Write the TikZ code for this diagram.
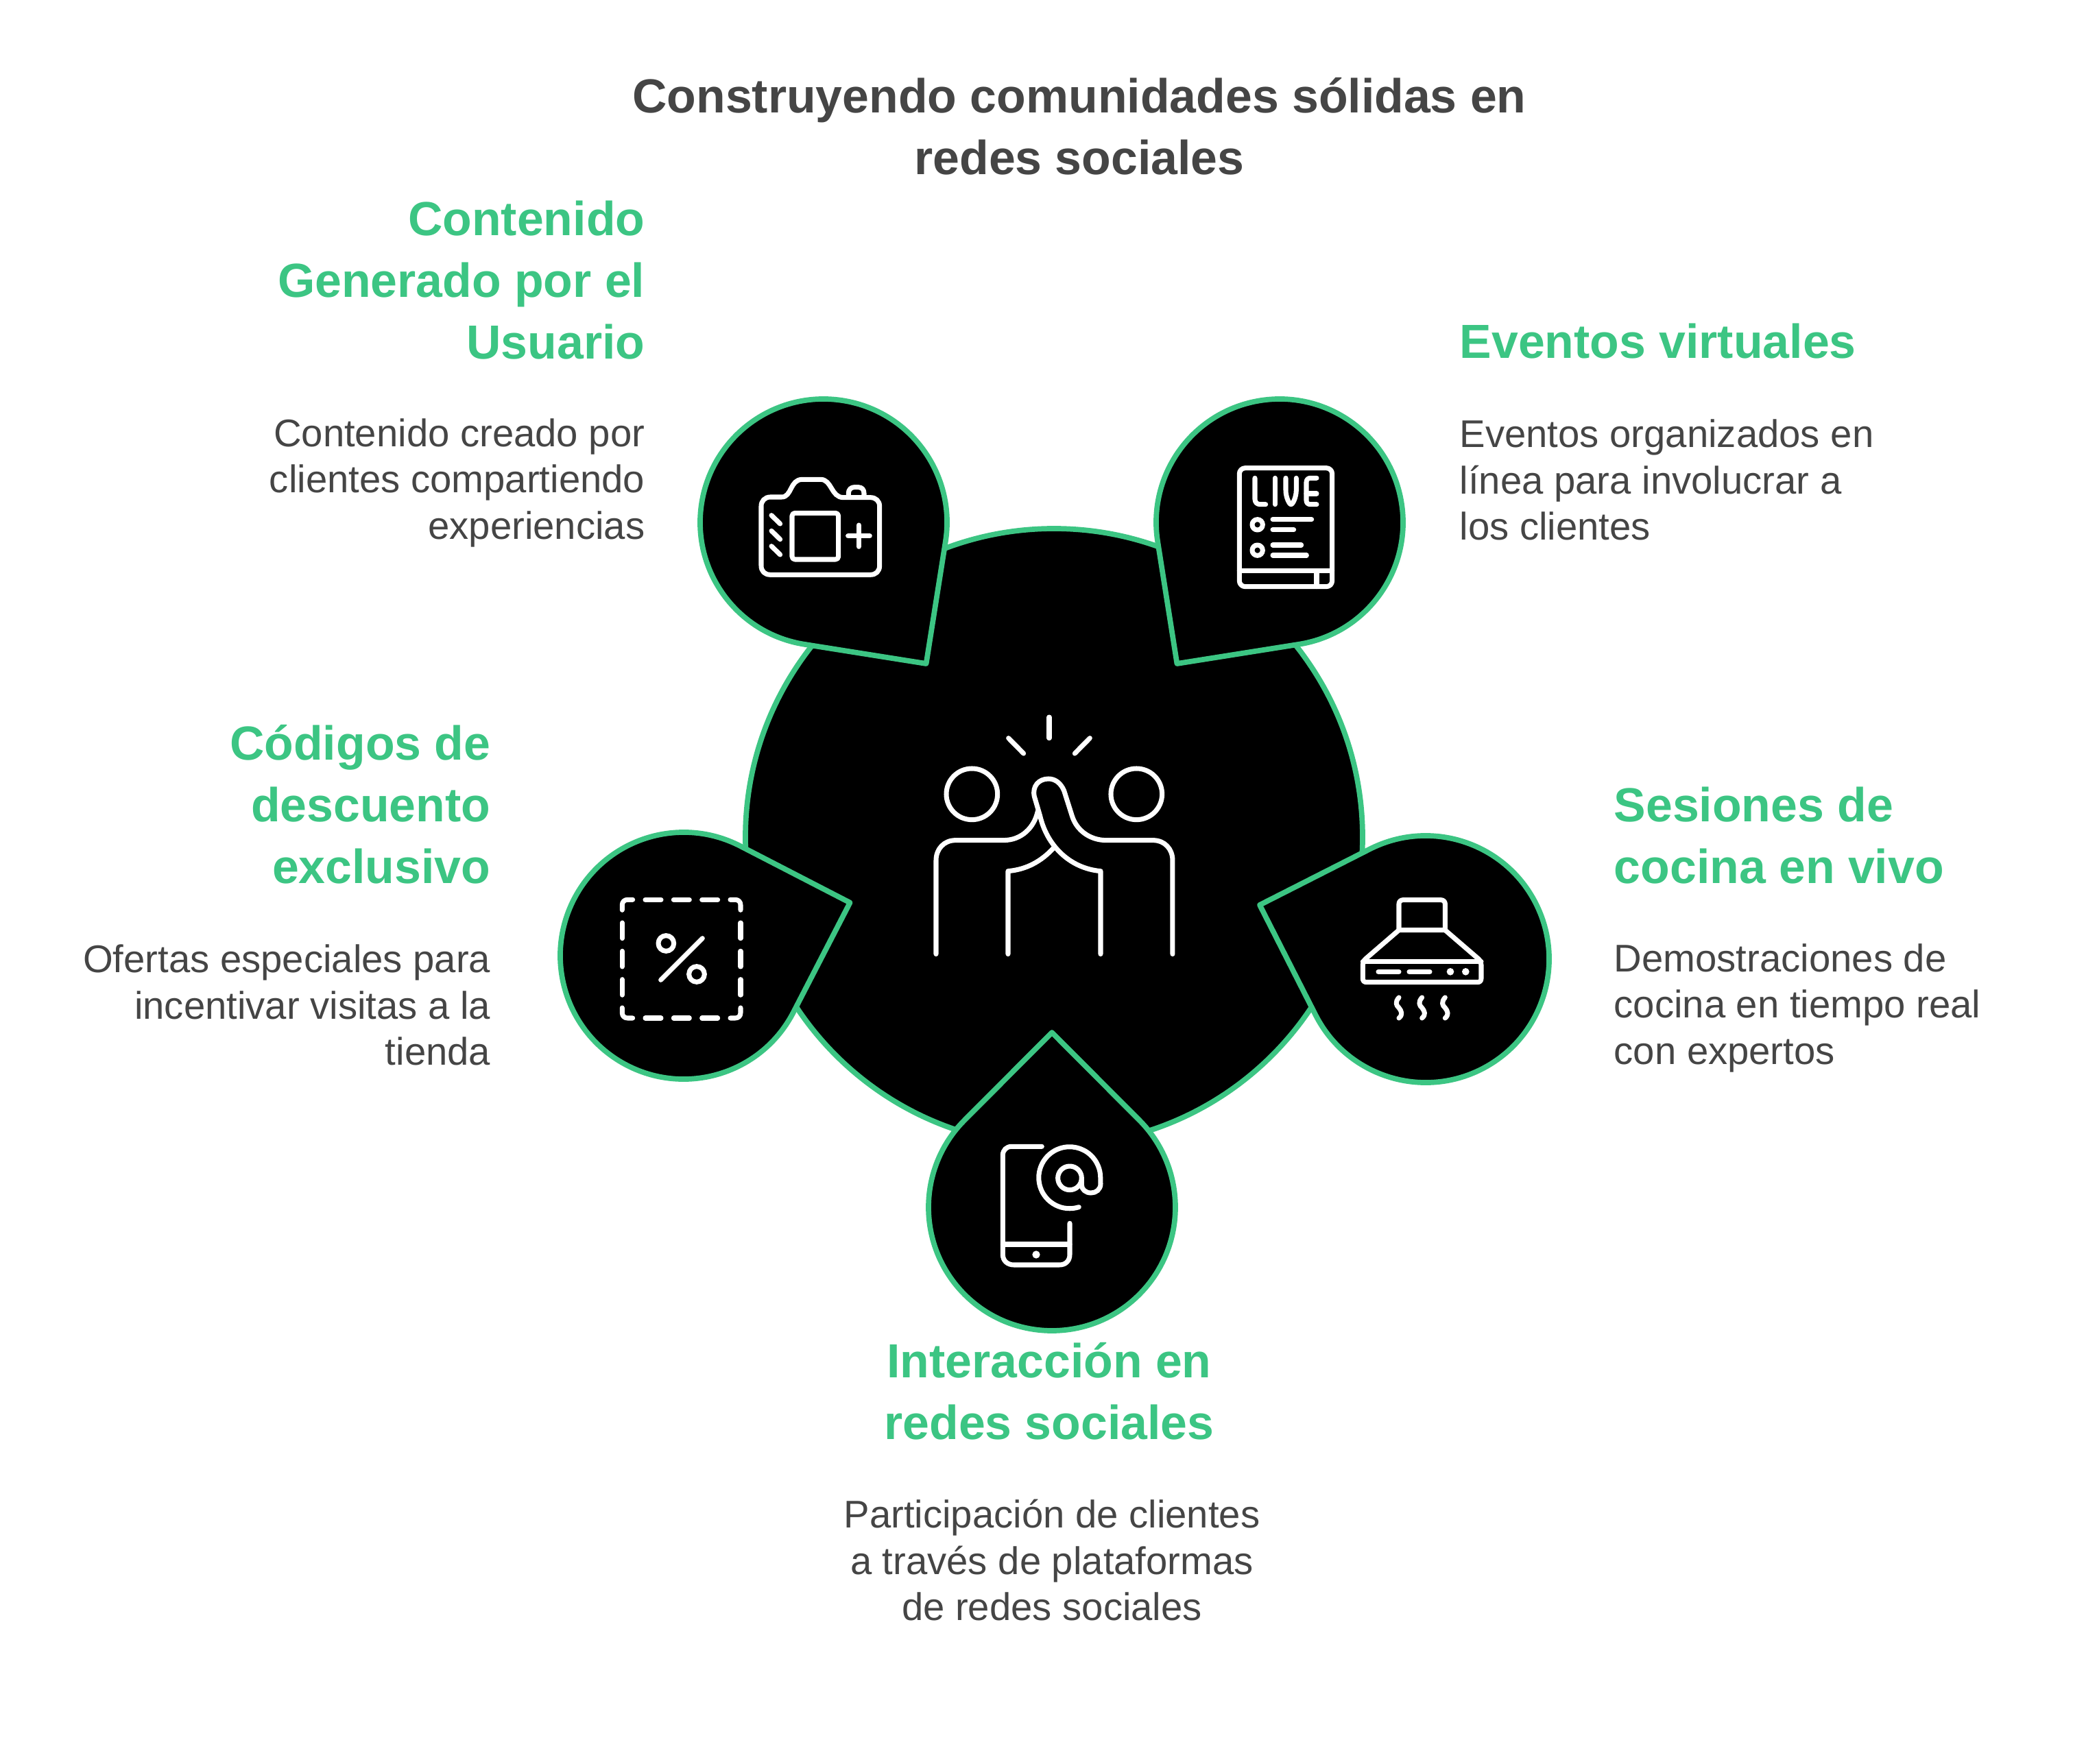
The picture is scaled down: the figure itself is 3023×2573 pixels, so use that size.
\documentclass[tikz,border=0pt]{standalone}
\usepackage{fontspec}
\setmainfont{Liberation Sans}
\definecolor{pingreen}{HTML}{3CC583}
\definecolor{textgrey}{HTML}{454545}
\begin{document}
\begin{tikzpicture}[x=0.01cm,y=-0.01cm,
    pin/.style={draw=pingreen,fill=black,line width=2.2pt,line join=round},
    icon/.style={draw=white,line width=2pt,line cap=round,line join=round},
    dot/.style={fill=white,draw=none},
    titletext/.style={inner sep=0pt,align=center,text=textgrey,font=\fontsize{19.85pt}{25.6pt}\selectfont\bfseries},
    headtext/.style={inner sep=0pt,text=pingreen,font=\fontsize{19.85pt}{25.6pt}\selectfont\bfseries},
    bodytext/.style={inner sep=0pt,text=textgrey,font=\fontsize{16pt}{19.2pt}\selectfont}]
  \useasboundingbox (0,0) rectangle (3023,2573);

  \node [titletext] (title) at (1574,184) {Construyendo comunidades sólidas en\\redes sociales};

  % big circle and the five pins
  \coordinate (hub) at (1537,1221);
  \draw [pin] (hub) circle [radius=450];

  \coordinate (pincam) at (1201,762);
  \coordinate (tipcam) at (1350.6,968);
  \draw [pin] (tipcam) -- ([shift={(99:180)}]pincam) arc [start angle=99,delta angle=270,radius=180] -- cycle;

  \coordinate (pinlive) at (1866,762);
  \coordinate (tiplive) at (1716.4,968);
  \draw [pin] (tiplive) -- ([shift={(171:180)}]pinlive) arc [start angle=171,delta angle=270,radius=180] -- cycle;

  \coordinate (pinhood) at (2079,1399);
  \coordinate (tiphood) at (1837,1320);
  \draw [pin] (tiphood) -- ([shift={(243:180)}]pinhood) arc [start angle=243,delta angle=270,radius=180] -- cycle;

  \coordinate (pinphone) at (1534,1761);
  \coordinate (tipphone) at (1534,1506);
  \draw [pin] (tipphone) -- ([shift={(-45:180)}]pinphone) arc [start angle=-45,delta angle=270,radius=180] -- cycle;

  \coordinate (pinsale) at (997,1394);
  \coordinate (tipsale) at (1239.5,1316.6);
  \draw [pin] (tipsale) -- ([shift={(27:180)}]pinsale) arc [start angle=27,delta angle=270,radius=180] -- cycle;

  % high five
  \begin{scope}[shift={(1330,1020)},scale=0.3333]
    \draw [icon] (262,415) circle [radius=112];
    \draw [icon] (982,415) circle [radius=112];
    \draw [icon] (600,78) -- (600,170);
    \draw [icon] (422,170) -- (488,237);
    \draw [icon] (778,170) -- (712,237);
    \draw [icon] (105,1115) -- (105,705) .. controls (105,655) and (140,617) .. (190,617) -- (400,617)
      .. controls (480,617) and (535,560) .. (550,490);
    \draw [icon] (1140,1115) -- (1140,705) .. controls (1140,655) and (1105,617) .. (1055,617) -- (850,617)
      .. controls (780,617) and (720,575) .. (700,510) -- (665,400)
      .. controls (650,365) and (625,348) .. (597,348)
      .. controls (555,348) and (525,380) .. (535,425) -- (560,510)
      .. controls (590,640) and (690,740) .. (825,752) -- (825,1115);
    \draw [icon] (420,1115) -- (420,752) .. controls (500,745) and (565,710) .. (620,650);
  \end{scope}

  % camera
  \begin{scope}[shift={(1080,670)},scale=0.3333]
    \draw [icon] (130,165) -- (180,165) .. controls (225,165) and (215,88) .. (270,88) -- (350,88)
      .. controls (400,88) and (395,167) .. (450,167) -- (568,167)
      .. controls (592,167) and (608,183) .. (608,205) -- (608,465)
      .. controls (608,490) and (592,505) .. (568,505) -- (130,505)
      .. controls (106,505) and (90,490) .. (90,465) -- (90,205)
      .. controls (90,183) and (106,165) .. (130,165) -- cycle;
    \draw [icon,rounded corners=1.2pt] (225,235) rectangle (428,438);
    \draw [icon] (470,335) -- (565,335);
    \draw [icon] (517,288) -- (517,382);
    \draw [icon] (135,245) -- (173,282);
    \draw [icon] (135,313) -- (173,350);
    \draw [icon] (135,380) -- (173,417);
    \draw [icon] (472,165) -- (472,148) .. controls (472,132) and (484,122) .. (497,122) -- (515,122)
      .. controls (530,122) and (540,132) .. (540,148) -- (540,165);
  \end{scope}

  % live book
  \begin{scope}[shift={(1780,660)},scale=0.3333]
    \draw [icon,rounded corners=2.4pt] (82,68) rectangle (488,587);
    \draw [icon] (82,518) -- (488,518);
    \draw [icon] (420,518) -- (420,587);
    \draw [icon] (150,112) -- (150,205) .. controls (150,218) and (160,227) .. (172,227) -- (197,227);
    \draw [icon] (238,112) -- (238,227);
    \draw [icon] (285,112) -- (285,165) .. controls (285,195) and (300,227) .. (308,227)
      .. controls (316,227) and (331,195) .. (331,165) -- (331,112);
    \draw [icon] (420,112) -- (392,112) .. controls (382,112) and (375,120) .. (375,130) -- (375,210)
      .. controls (375,220) and (382,227) .. (392,227) -- (420,227);
    \draw [icon] (375,180) -- (420,180);
    \draw [icon] (161,316) circle [radius=23];
    \draw [icon] (161,428) circle [radius=23];
    \draw [icon] (228,293) -- (398,293);
    \draw [icon] (228,338) -- (320,338);
    \draw [icon] (228,405) -- (353,405);
    \draw [icon] (228,450) -- (376,450);
  \end{scope}

  % kitchen hood
  \begin{scope}[shift={(1960,1290)},scale=0.3333]
    \draw [icon] (240,200) -- (240,85) .. controls (240,75) and (248,68) .. (258,68) -- (424,68)
      .. controls (434,68) and (442,75) .. (442,85) -- (442,200) -- cycle;
    \draw [icon] (240,200) -- (95,325) .. controls (86,333) and (82,342) .. (82,352) -- (82,412)
      .. controls (82,422) and (88,428) .. (98,428) -- (584,428)
      .. controls (594,428) and (600,422) .. (600,412) -- (600,352)
      .. controls (600,342) and (596,333) .. (587,325) -- (442,200);
    \draw [icon] (82,338) -- (600,338);
    \draw [icon] (150,382) -- (240,382);
    \draw [icon] (285,382) -- (375,382);
    \fill [dot] (465,382) circle [radius=16];
    \fill [dot] (532,382) circle [radius=16];
    \draw [icon] (240,495) .. controls (222,515) and (228,530) .. (240,540) .. controls (252,555) and (258,570) .. (240,585);
    \draw [icon] (341,495) .. controls (323,515) and (329,530) .. (341,540) .. controls (353,555) and (359,570) .. (341,585);
    \draw [icon] (442,495) .. controls (424,515) and (430,530) .. (442,540) .. controls (454,555) and (460,570) .. (442,585);
  \end{scope}

  % phone with at sign
  \begin{scope}[shift={(1430,1650)},scale=0.3333]
    \draw [icon] (268,67) -- (135,67) .. controls (113,67) and (97,83) .. (97,105) -- (97,540)
      .. controls (97,567) and (118,585) .. (145,585) -- (345,585)
      .. controls (372,585) and (390,567) .. (390,540) -- (390,403);
    \draw [icon] (97,495) -- (390,495);
    \fill [dot] (243,540) circle [radius=17];
    \draw [icon] (430,332) arc [start angle=72.5,end angle=360,radius=135] -- (525,230)
      .. controls (525,255) and (505,270) .. (483,270) .. controls (460,270) and (442,255) .. (442,235) -- (442,205);
    \draw [icon] (390,205) circle [radius=52];
  \end{scope}

  % discount coupon
  \begin{scope}[shift={(880,1290)},scale=0.3333]
    \draw [icon] (82,112) -- (82,90) .. controls (82,76) and (92,67) .. (105,67) -- (128,67);
    \draw [icon] (555,67) -- (577,67) .. controls (590,67) and (600,76) .. (600,90) -- (600,112);
    \draw [icon] (82,540) -- (82,562) .. controls (82,576) and (92,585) .. (105,585) -- (128,585);
    \draw [icon] (555,585) -- (577,585) .. controls (590,585) and (600,576) .. (600,562) -- (600,540);
    \draw [icon] (183,67) -- (252,67);
    \draw [icon] (307,67) -- (376,67);
    \draw [icon] (431,67) -- (500,67);
    \draw [icon] (183,585) -- (252,585);
    \draw [icon] (307,585) -- (376,585);
    \draw [icon] (431,585) -- (500,585);
    \draw [icon] (82,168) -- (82,236);
    \draw [icon] (82,292) -- (82,360);
    \draw [icon] (82,416) -- (82,484);
    \draw [icon] (600,168) -- (600,236);
    \draw [icon] (600,292) -- (600,360);
    \draw [icon] (600,416) -- (600,484);
    \draw [icon] (274,258) circle [radius=34];
    \draw [icon] (408,393) circle [radius=34];
    \draw [icon] (251,418) -- (433,236);
  \end{scope}

  % labels
  \node [headtext,anchor=east,align=right] (headcam) at (941,409) {Contenido\\Generado por el\\Usuario};
  \node [bodytext,anchor=east,align=right] (bodycam) at (941,704) {Contenido creado por\\clientes compartiendo\\experiencias};

  \node [headtext,anchor=west,align=left] (headlive) at (2128,498) {Eventos virtuales};
  \node [bodytext,anchor=west,align=left] (bodylive) at (2128,700) {Eventos organizados en\\línea para involucrar a\\los clientes};

  \node [headtext,anchor=east,align=right] (headsale) at (716,1173) {Códigos de\\descuento\\exclusivo};
  \node [bodytext,anchor=east,align=right] (bodysale) at (716,1466) {Ofertas especiales para\\incentivar visitas a la\\tienda};

  \node [headtext,anchor=west,align=left] (headhood) at (2353,1219) {Sesiones de\\cocina en vivo};
  \node [bodytext,anchor=west,align=left] (bodyhood) at (2353,1470) {Demostraciones de\\cocina en tiempo real\\con expertos};

  \node [headtext,align=center] (headphone) at (1530,2029) {Interacción en\\redes sociales};
  \node [bodytext,align=center] (bodyphone) at (1534,2276) {Participación de clientes\\a través de plataformas\\de redes sociales};
\end{tikzpicture}
\end{document}
